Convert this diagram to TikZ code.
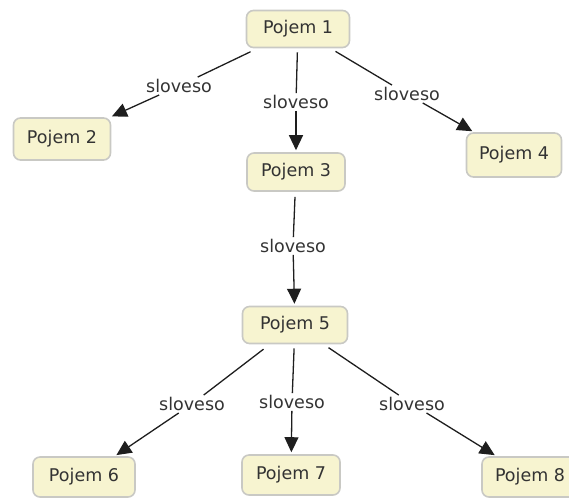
\documentclass[tikz,border=0pt]{standalone}
\usepackage{fontspec}
\setmainfont{DejaVu Sans}
\usetikzlibrary{arrows.meta}
\definecolor{boxfill}{HTML}{F7F4D0}
\definecolor{boxline}{HTML}{C9C9C4}
\definecolor{txt}{HTML}{333333}
\definecolor{lnk}{HTML}{1E1E1E}
\tikzset{
  concept/.style={draw=boxline, line width=1.6pt, fill=boxfill, rounded corners=7pt,
    minimum width=98pt, minimum height=40pt, inner sep=0pt, text=txt,
    font=\fontsize{17.5}{20}\selectfont},
  verb/.style={inner sep=2pt, text=txt, font=\fontsize{17.5}{20}\selectfont},
  seg/.style={draw=lnk, line width=1.3pt},
  arr/.style={draw=lnk, line width=1.3pt, -{Triangle[length=15pt,width=14pt]}, shorten >=2pt},
}
\begin{document}
\begin{tikzpicture}[x=1pt,y=-1pt]
\useasboundingbox (0,0) rectangle (569,499);
\clip (0,0) rectangle (569,499);
\node[concept, minimum width=103pt, minimum height=37pt] (n1) at (298,29) {Pojem 1};
\node[concept, minimum width=97pt, minimum height=42pt] (n2) at (62,139) {Pojem 2};
\node[concept, minimum width=98pt, minimum height=38pt] (n3) at (296,172) {Pojem 3};
\node[concept, minimum width=95pt, minimum height=44pt] (n4) at (514,155) {Pojem 4};
\node[concept, minimum width=105pt, minimum height=37pt] (n5) at (295,325) {Pojem 5};
\node[concept, minimum width=102pt, minimum height=40pt] (n6) at (84,477) {Pojem 6};
\node[concept, minimum width=98pt, minimum height=40pt] (n7) at (291,475) {Pojem 7};
\node[concept, minimum width=96pt, minimum height=40pt] (n8) at (530,477) {Pojem 8};

\node[verb] (l12) at (179,86) {sloveso};
\node[verb] (l13) at (296,102) {sloveso};
\node[verb] (l14) at (407,94) {sloveso};
\node[verb] (l35) at (293,246) {sloveso};
\node[verb] (l56) at (192,404) {sloveso};
\node[verb] (l57) at (292,402) {sloveso};
\node[verb] (l58) at (412,404) {sloveso};

\draw[seg, shorten <=8pt] (n1) -- (l12);
\draw[arr] (l12) -- (n2);
\draw[seg, shorten <=4pt] (n1) -- (l13);
\draw[arr] (l13) -- (n3);
\draw[seg, shorten <=6pt] (n1) -- (l14);
\draw[arr] (l14) -- (n4);
\draw[seg, shorten <=5pt] (n3) -- (l35);
\draw[arr] (l35) -- (n5);
\draw[seg, shorten <=8pt] (n5) -- (l56);
\draw[arr] (l56) -- (n6);
\draw[seg, shorten <=4pt] (n5) -- (l57);
\draw[arr] (l57) -- (n7);
\draw[seg, shorten <=6pt] (n5) -- (l58);
\draw[arr] (l58) -- (n8);
\end{tikzpicture}
\end{document}
